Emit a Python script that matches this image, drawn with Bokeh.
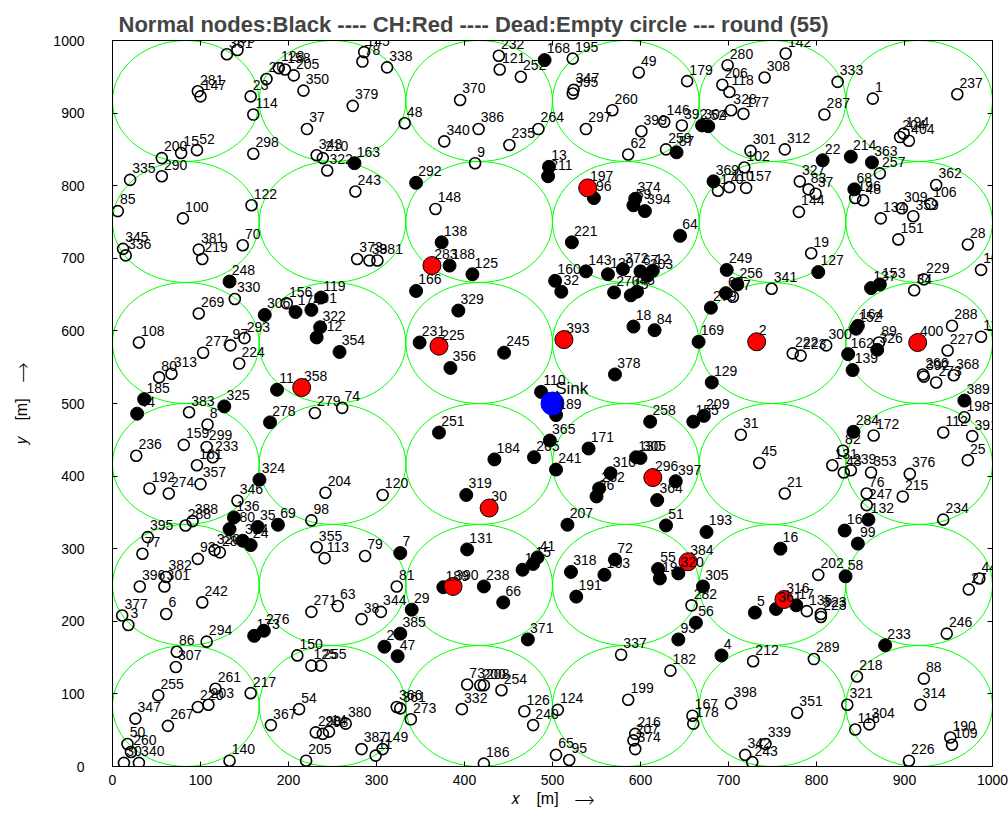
from bokeh.plotting import figure
from bokeh.models import Range1d, FixedTicker, LinearAxis
from bokeh.embed import file_html
from bokeh.resources import INLINE
from bokeh.core.properties import value

ROUND = 55
TITLE = f"Normal nodes:Black ---- CH:Red ---- Dead:Empty circle --- round ({ROUND})"

# cluster cells (6 x 6 grid of circular coverage areas)
cell_centers = [83.3, 250.0, 416.7, 583.3, 750.0, 916.7]
cell_radius = 83.3

# sink position
sink_x, sink_y = 500, 500

# dead nodes (empty circles)
dead_id = [361, 90, 281, 147, 20, 23, 114, 298, 200, 15, 52, 335, 290, 85, 100, 122, 345, 336, 381, 219,
           70, 128, 158, 205, 350, 37, 343, 210, 322, 145, 78, 338, 379, 48, 243, 373, 39, 381, 232, 121,
           252, 370, 386, 340, 235, 264, 9, 148, 195, 49, 347, 395, 179, 260, 297, 399, 146, 392, 62, 259,
           280, 206, 118, 328, 177, 301, 102, 170, 110, 157, 308, 142, 333, 1, 237, 287, 194, 204, 404, 312,
           257, 327, 83, 37, 144, 196, 48, 362, 106, 309, 359, 134, 151, 28, 101, 19, 341, 229, 34, 330,
           269, 156, 108, 277, 97, 293, 224, 80, 313, 383, 8, 159, 299, 233, 161, 357, 236, 192, 274, 346,
           279, 74, 288, 388, 395, 77, 93, 320, 28, 382, 396, 301, 242, 6, 377, 3, 294, 86, 307, 255,
           261, 203, 220, 217, 347, 267, 140, 50, 260, 30, 340, 150, 125, 255, 54, 367, 205, 298, 208, 14,
           98, 355, 113, 79, 81, 63, 38, 344, 271, 204, 120, 73, 200, 208, 254, 332, 126, 240, 186, 366,
           361, 273, 11, 149, 380, 387, 282, 337, 182, 199, 124, 167, 178, 398, 216, 207, 374, 65, 95, 212,
           342, 243, 339, 202, 135, 323, 223, 289, 218, 321, 116, 304, 351, 88, 314, 190, 109, 226, 246, 27,
           44, 222, 223, 300, 89, 288, 227, 117, 266, 392, 273, 368, 198, 112, 391, 25, 172, 82, 131, 43,
           239, 353, 45, 31, 21, 376, 215, 234, 76, 247, 37]
dead_x = [130, 142, 97, 100, 175, 157, 160, 160, 56, 78, 96, 20, 56, 6, 80, 158, 12, 15, 98, 102,
          148, 189, 196, 206, 217, 221, 232, 239, 244, 286, 284, 312, 273, 332, 276, 278, 292, 301, 439, 440,
          464, 395, 416, 377, 451, 484, 412, 367, 523, 598, 524, 523, 653, 568, 538, 601, 627, 647, 586, 629,
          699, 693, 701, 703, 717, 725, 718, 688, 701, 720, 741, 765, 824, 864, 960, 809, 899, 895, 905, 764,
          872, 781, 791, 799, 780, 844, 853, 936, 930, 897, 910, 873, 893, 972, 987, 794, 749, 922, 911, 139,
          98, 198, 30, 103, 134, 150, 144, 53, 67, 87, 108, 81, 107, 114, 96, 100, 27, 42, 64, 142,
          230, 261, 83, 91, 40, 34, 97, 116, 122, 61, 31, 59, 102, 61, 11, 18, 107, 73, 72, 52,
          117, 109, 97, 157, 26, 63, 133, 17, 21, 13, 30, 210, 226, 237, 212, 180, 220, 231, 239, 246,
          226, 232, 241, 287, 323, 256, 283, 305, 226, 242, 307, 403, 418, 422, 442, 397, 468, 478, 422, 323,
          327, 339, 299, 307, 265, 283, 658, 578, 634, 586, 506, 659, 660, 703, 594, 592, 594, 504, 519, 728,
          719, 727, 742, 802, 789, 805, 805, 797, 846, 835, 844, 860, 778, 922, 918, 952, 954, 905, 948, 973,
          985, 773, 782, 811, 871, 954, 949, 987, 921, 922, 936, 956, 968, 944, 977, 972, 865, 830, 818, 831,
          839, 862, 735, 714, 764, 906, 898, 944, 857, 857, 705]
dead_y = [981, 987, 930, 923, 947, 923, 898, 844, 838, 845, 849, 808, 813, 765, 755, 773, 713, 704, 712, 699,
          718, 962, 960, 952, 931, 878, 842, 838, 821, 984, 971, 963, 910, 886, 792, 699, 697, 697, 979, 960,
          950, 918, 878, 861, 856, 878, 831, 768, 975, 956, 932, 927, 944, 904, 878, 875, 888, 883, 843, 850,
          966, 939, 929, 904, 899, 848, 825, 793, 798, 797, 949, 982, 943, 920, 926, 898, 872, 867, 862, 850,
          817, 806, 795, 789, 764, 783, 780, 801, 775, 769, 758, 755, 726, 719, 684, 707, 658, 671, 656, 644,
          624, 638, 584, 570, 580, 590, 555, 536, 541, 488, 471, 443, 440, 426, 415, 389, 428, 383, 376, 366,
          487, 494, 332, 338, 316, 293, 286, 298, 295, 261, 248, 248, 226, 210, 208, 195, 172, 158, 137, 98,
          107, 85, 82, 101, 66, 56, 8, 31, 20, 5, 5, 153, 139, 139, 79, 57, 8, 47, 45, 48,
          339, 302, 287, 290, 248, 221, 203, 213, 213, 377, 374, 113, 112, 112, 105, 79, 76, 57, 4, 82,
          80, 65, 15, 24, 59, 24, 222, 154, 132, 92, 78, 70, 59, 87, 45, 36, 24, 16, 9, 145,
          16, 6, 31, 264, 214, 210, 206, 148, 124, 85, 51, 58, 74, 121, 85, 40, 30, 8, 183, 244,
          259, 569, 566, 580, 584, 607, 573, 592, 540, 537, 529, 539, 481, 460, 455, 422, 456, 435, 415, 405,
          408, 405, 418, 457, 376, 403, 372, 340, 376, 360, 647]

# normal (alive) nodes
normal_id = [248, 163, 292, 138, 188, 125, 168, 13, 211, 304, 52, 87, 96, 374, 59, 394, 64, 221, 143, 130,
             372, 67, 12, 369, 249, 22, 214, 363, 68, 127, 137, 153, 306, 174, 201, 119, 322, 412, 354, 185,
             44, 325, 278, 11, 324, 136, 380, 35, 69, 314, 24, 173, 276, 7, 29, 385, 20, 47, 131, 189,
             238, 66, 1, 15, 41, 371, 166, 329, 231, 356, 245, 251, 184, 319, 160, 32, 270, 15, 45, 203,
             18, 84, 169, 378, 129, 110, 189, 365, 265, 241, 171, 258, 155, 209, 130, 305, 310, 262, 26, 397,
             364, 207, 51, 193, 318, 72, 103, 191, 55, 19, 320, 305, 56, 93, 4, 5, 361, 17, 16, 166,
             132, 99, 58, 233, 164, 152, 162, 139, 326, 389, 284, 256, 63, 279]
normal_x = [133, 275, 345, 374, 383, 409, 491, 496, 495, 670, 677, 641, 547, 594, 592, 605, 645, 522, 538, 563,
            580, 600, 614, 683, 698, 807, 839, 863, 843, 802, 862, 872, 173, 208, 226, 237, 236, 232, 258, 36,
            28, 127, 179, 187, 167, 138, 133, 165, 188, 148, 157, 161, 172, 327, 340, 327, 309, 324, 403, 376,
            422, 444, 466, 478, 483, 472, 345, 393, 349, 384, 445, 371, 434, 402, 503, 510, 570, 589, 596, 608,
            592, 616, 666, 571, 681, 487, 504, 497, 479, 504, 541, 611, 660, 672, 595, 600, 566, 553, 550, 640,
            619, 517, 629, 675, 521, 571, 559, 527, 620, 622, 643, 671, 663, 643, 692, 730, 754, 777, 759, 832,
            859, 847, 833, 878, 847, 845, 836, 841, 869, 968, 842, 710, 697, 680]
normal_y = [668, 831, 804, 722, 690, 678, 973, 826, 813, 883, 882, 846, 783, 782, 773, 765, 731, 722, 682, 678,
            685, 682, 683, 806, 684, 835, 840, 832, 795, 681, 659, 664, 622, 626, 629, 646, 605, 591, 571, 506,
            486, 496, 474, 519, 395, 343, 327, 330, 333, 311, 305, 180, 187, 294, 216, 183, 165, 152, 299, 247,
            248, 226, 271, 279, 288, 175, 655, 628, 584, 549, 570, 460, 423, 374, 669, 654, 653, 649, 654, 676,
            606, 601, 585, 540, 529, 516, 484, 449, 426, 409, 438, 475, 475, 483, 426, 425, 404, 383, 372, 393,
            367, 333, 332, 323, 268, 285, 264, 234, 272, 259, 266, 248, 198, 175, 153, 212, 217, 222, 300, 325,
            340, 307, 262, 167, 607, 603, 568, 546, 574, 504, 461, 664, 652, 632]

# cluster heads of this round
ch_id = [283, 197, 225, 358, 393, 2, 400, 30, 296, 390, 384, 316]
ch_x = [363, 540, 371, 215, 513, 732, 915, 428, 614, 387, 654, 763]
ch_y = [690, 797, 579, 522, 588, 585, 584, 356, 398, 248, 282, 230]

FONT = "Liberation Sans"

p = figure(width=1008, height=838, output_backend="svg", toolbar_location=None,
           x_range=Range1d(0, 1000), y_range=Range1d(0, 1000),
           min_border_left=112, min_border_right=16, min_border_top=40, min_border_bottom=72,
           title=TITLE)
p.background_fill_color = "white"
p.border_fill_color = "white"
p.outline_line_color = "black"
p.outline_line_width = 1
p.grid.visible = False

p.title.text_font = FONT
p.title.text_font_size = "22px"
p.title.text_font_style = "bold"
p.title.align = "left"
p.title.offset = 6
p.title.standoff = 8

ticks = list(range(0, 1001, 100))
for ax in (p.xaxis[0], p.yaxis[0]):
    ax.ticker = FixedTicker(ticks=ticks)
    ax.major_tick_in = 5
    ax.major_tick_out = 0
    ax.minor_tick_line_color = None
    ax.axis_line_color = "black"
    ax.major_tick_line_color = "black"
    ax.major_label_text_font = FONT
    ax.major_label_text_font_size = "14px"
    ax.major_label_text_color = "black"
    ax.axis_label_text_font = FONT
    ax.axis_label_text_font_size = "16px"
    ax.axis_label_text_font_style = "normal"
    ax.axis_label_text_color = "black"
p.xaxis[0].major_label_standoff = 8
p.yaxis[0].major_label_standoff = 28
p.xaxis[0].axis_label = "\U0001D465\u2003[m]\u2003\u27F6"
p.yaxis[0].axis_label = "\U0001D466\u2003[m]\u2003\u27F6"
p.xaxis[0].axis_label_standoff = 2
p.yaxis[0].axis_label_standoff = 20

# tick marks on the top and right edges of the box
for side in ("above", "right"):
    ax = LinearAxis(ticker=FixedTicker(ticks=ticks), major_tick_in=5, major_tick_out=0,
                    minor_tick_line_color=None, major_label_text_font_size="0px",
                    major_label_standoff=0, axis_line_color="black")
    p.add_layout(ax, side)

# coverage circles of the cells
cx = [c for c in cell_centers for _ in cell_centers]
cy = [c for _ in cell_centers for c in cell_centers]
p.ellipse(x=cx, y=cy, width=2 * cell_radius, height=2 * cell_radius,
          fill_color=None, line_color="#00ff00", line_width=1)

# nodes
p.scatter(dead_x, dead_y, marker="circle", size=11, fill_color=None,
          line_color="black", line_width=1.6)
p.scatter(normal_x, normal_y, marker="circle", size=13, fill_color="black",
          line_color="black", line_width=1)
p.scatter(ch_x, ch_y, marker="circle", size=18, fill_color="red",
          line_color="black", line_width=1)
p.scatter([sink_x], [sink_y], marker="circle", size=23, fill_color="blue",
          line_color="blue", line_width=1)

# node numbers, placed up and to the right of each node
all_id = dead_id + normal_id + ch_id
all_x = dead_x + normal_x + ch_x
all_y = dead_y + normal_y + ch_y
p.text(x=[v + 2.5 for v in all_x], y=[v + 16 for v in all_y], text=[str(i) for i in all_id],
       text_font=value(FONT), text_font_size="14px", text_color="black",
       text_align="left", text_baseline="middle")
p.text(x=[sink_x + 3], y=[sink_y + 21], text=["Sink"], text_font=value(FONT),
       text_font_size="17px", text_color="black", text_align="left", text_baseline="middle")

open("out.html", "w").write(file_html(p, INLINE))
